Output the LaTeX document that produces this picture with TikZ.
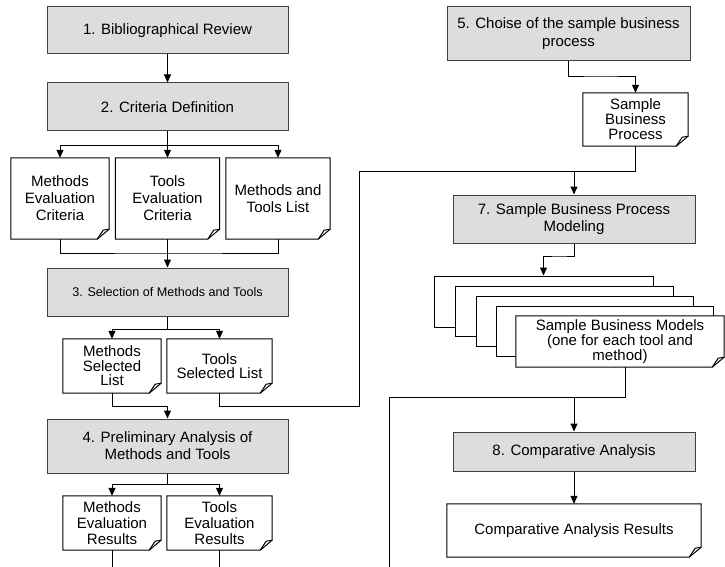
\documentclass[tikz,border=0pt]{standalone}
\usepackage{fontspec}
\setmainfont{Liberation Sans}
\usetikzlibrary{arrows.meta,calc}
\definecolor{boxfill}{RGB}{221,221,221}
\definecolor{boxline}{RGB}{64,64,64}
\tikzset{
  proc/.style={draw=boxline, fill=boxfill, line width=1pt, minimum width=241pt, inner sep=0pt, align=center, font=\fontsize{15}{17}\selectfont},
  docn/.style={fill=white, inner sep=0pt, align=center, font=\fontsize{15}{17}\selectfont},
  stackn/.style={draw=black, fill=white, line width=1pt, inner sep=0pt},
  link/.style={draw=black, line width=1pt},
  arr/.style={link, -{Triangle[width=7pt,length=8pt]}},
  docline/.style={draw=black, line width=1pt, line join=miter},
}
\newcommand\docoutline[1]{%
  \draw[docline] (#1.north west) -- (#1.north east) -- ([yshift=10pt]#1.south east) -- ([xshift=-12pt]#1.south east) -- (#1.south west) -- cycle;
  \draw[docline] ([xshift=-12pt]#1.south east) -- ([xshift=-6pt,yshift=9pt]#1.south east) -- ([yshift=10pt]#1.south east);}
\begin{document}
\begin{tikzpicture}[x=1pt,y=-1pt]
\useasboundingbox (0,0) rectangle (725,567);
\fill[white] (0,0) rectangle (725,567);
% left column
\node[proc, minimum height=47pt] (b1) at (167.5,30.5) {1. Bibliographical Review};
\node[proc, minimum height=48pt] (b2) at (167.5,107) {2. Criteria Definition};
\node[docn, minimum width=98pt, minimum height=81pt] (d1) at (60,198.5) {Methods\\Evaluation\\Criteria};
\node[docn, minimum width=104pt, minimum height=81pt] (d2) at (167.5,198.5) {Tools\\Evaluation\\Criteria};
\node[docn, minimum width=104pt, minimum height=81pt] (d3) at (278,198.5) {Methods and\\Tools List};
\node[proc, minimum height=48pt, font=\fontsize{12.6}{15}\selectfont] (b3) at (167.5,292) {3. Selection of Methods and Tools};
\node[docn, minimum width=98pt, minimum height=54pt, font=\fontsize{15}{14.5}\selectfont] (d4) at (112,366) {Methods\\Selected\\List};
\node[docn, minimum width=105pt, minimum height=54pt, font=\fontsize{15}{14.5}\selectfont] (d5) at (219.5,366) {Tools\\Selected List};
\node[proc, minimum height=54pt] (b4) at (167.5,446) {4. Preliminary Analysis of\\Methods and Tools};
\node[docn, minimum width=98pt, minimum height=54pt, font=\fontsize{15}{16}\selectfont] (d6) at (112,523) {Methods\\Evaluation\\Results};
\node[docn, minimum width=105pt, minimum height=54pt, font=\fontsize{15}{16}\selectfont] (d7) at (219.5,523) {Tools\\Evaluation\\Results};
% right column
\node[proc, minimum width=243pt, minimum height=54pt, font=\fontsize{15}{18}\selectfont] (b5) at (568.5,34) {5. Choise of the sample business\\process};
\node[docn, minimum width=105pt, minimum height=53pt, font=\fontsize{15}{15}\selectfont] (d8) at (635.5,119.5) {Sample\\Business\\Process};
\node[proc, minimum width=242pt, minimum height=48pt] (b7) at (574,219) {7. Sample Business Process\\Modeling};
\node[stackn, minimum width=219pt, minimum height=51pt] (s1) at (543.5,301.5) {};
\node[stackn, minimum width=218pt, minimum height=50pt] (s2) at (564,311) {};
\node[stackn, minimum width=217pt, minimum height=50pt] (s3) at (584.5,321) {};
\node[stackn, minimum width=217pt, minimum height=50pt] (s4) at (604.5,331) {};
\node[docn, minimum width=208pt, minimum height=51pt, font=\fontsize{15}{12.5}\selectfont] (d9) at (620,341.5) {Sample Business Models\\(one for each tool and\\method)};
\node[proc, minimum width=242pt, minimum height=39pt] (b8) at (574,451.5) {8. Comparative Analysis};
\node[docn, minimum width=254pt, minimum height=53pt] (d10) at (574,530.5) {Comparative Analysis Results};
% document outlines
\docoutline{d1}\docoutline{d2}\docoutline{d3}
\docoutline{d4}\docoutline{d5}
\docoutline{d6}\docoutline{d7}
\docoutline{d8}\docoutline{d9}\docoutline{d10}
% coordinates
\coordinate (bot) at (0,567);
\coordinate (j1) at (167.5,145);
\coordinate (j2) at (167.5,253);
\coordinate (j3) at (167.5,329);
\coordinate (j4) at (167.5,406);
\coordinate (j5) at (167.5,484);
\coordinate (c1) at (359,406);
\coordinate (c2) at (359,171);
\coordinate (c3) at (574,171);
\coordinate (k1) at (600,77);
\coordinate (k2) at (560,256);
\coordinate (m1) at (625,397);
\coordinate (m2) at (389,397);
\coordinate (m3) at (389,567);
% connectors left
\draw[arr] (b1.south) -- (b2.north);
\draw[link] (b2.south) -- (j1);
\draw[arr] (j1) -| (d1.north);
\draw[arr] (j1) -| (d3.north);
\draw[arr] (j1) -- (d2.north);
\draw[link] (d1.south) |- (j2) -| (d3.south);
\draw[arr] (d2.south) -- (b3.north);
\draw[link] (b3.south) -- (j3);
\draw[arr] (j3) -| (d4.north);
\draw[arr] (j3) -| (d5.north);
\draw[link] (d4.south) |- (j4);
\draw[link] (d5.south) |- (c1) -- (c2) -- (c3);
\draw[arr] (j4) -- (b4.north);
\draw[link] (b4.south) -- (j5);
\draw[arr] (j5) -| (d6.north);
\draw[arr] (j5) -| (d7.north);
\draw[link] (d6.south) -- (d6.south |- bot);
\draw[link] (d7.south) -- (d7.south |- bot);
% connectors right
\draw[arr] (b5.south) |- (k1) -| (d8.north);
\draw[link] (d8.south) |- (c3);
\draw[arr] (c3) -- (b7.north);
\draw[arr] (b7.south) |- (k2) -| (s1.north);
\draw[link] (m1 |- d9.south) -- (m1) -- (m2) -- (m3);
\draw[arr] (b8.north |- m1) -- (b8.north);
\draw[arr] (b8.south) -- (d10.north);
\end{tikzpicture}
\end{document}
